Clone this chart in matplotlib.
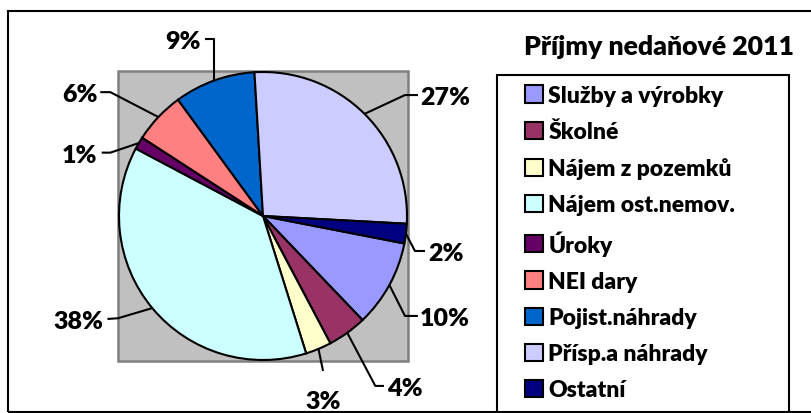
import numpy as np
import matplotlib
matplotlib.use('Agg')
import matplotlib.pyplot as plt
from matplotlib.patches import Rectangle

# data
categories = ['Služby a výrobky', 'Školné', 'Nájem z pozemků', 'Nájem ost.nemov.',
              'Úroky', 'NEI dary', 'Pojist.náhrady', 'Přísp.a náhrady', 'Ostatní']
shares = [9.8, 4.4, 2.9, 37.6, 1.4, 5.8, 9.1, 26.8, 2.2]
title = 'Příjmy nedaňové 2011'

colors = ['#9999FF', '#993366', '#FFFFCC', '#CCFFFF', '#660066',
          '#FF8080', '#0066CC', '#CCCCFF', '#000080']

# label layout in pie units: text x, text y, ha, elbow x (None = wedge x), elbow y, end x, end y
label_layout = [
    (1.09, -0.694, 'left', 0.986, -0.694, 1.076, -0.694),
    (0.86, -1.18, 'left', 0.78, -1.18, 0.84, -1.18),
    (0.42, -1.27, 'center', 0.417, -1.076, 0.417, -1.076),
    (-1.11, -0.715, 'right', -1.007, -0.71, -1.08, -0.715),
    (-1.15, 0.44, 'right', -1.06, 0.44, -1.12, 0.44),
    (-1.15, 0.86, 'right', -1.06, 0.86, -1.13, 0.86),
    (-0.43, 1.23, 'right', None, 1.23, -0.40, 1.23),
    (1.09, 0.84, 'left', 0.986, 0.84, 1.076, 0.84),
    (1.146, -0.243, 'left', 1.055, -0.243, 1.125, -0.243),
]

FONT = ['Lato', 'DejaVu Sans']
FS = 16.5
WEIGHT = 'heavy'

W, H = 811, 414
fig = plt.figure(figsize=(W / 100, H / 100), dpi=100)
ax = fig.add_axes([0, 0, 1, 1])

# pie centre at (263, 217) px, radius 144 px
cx, cy, R = 263, 217, 144

ax.add_patch(Rectangle((-1.01, -1.01), 2.02, 2.02, facecolor='#C0C0C0',
                       edgecolor='#808080', linewidth=1.8, zorder=0))

wedges, _ = ax.pie(shares, colors=colors, startangle=-11, counterclock=False,
                   radius=1, wedgeprops=dict(edgecolor='black', linewidth=1.5))

total = sum(shares)
for w, v, lay in zip(wedges, shares, label_layout):
    tx, ty, ha, ex, ey, nx, ny = lay
    mid = np.deg2rad((w.theta1 + w.theta2) / 2)
    axp, ayp = np.cos(mid), np.sin(mid)
    if ex is None:
        ex = axp
    ax.plot([axp, ex, nx], [ayp, ey, ny], color='black', lw=1.5, zorder=3,
            solid_capstyle='butt')
    ax.text(tx, ty, '%.0f%%' % (v / total * 100), ha=ha, va='center_baseline',
            family=FONT, fontsize=18, fontweight=WEIGHT, zorder=4)

ax.set_xlim(-cx / R, (W - cx) / R)
ax.set_ylim(-(H - cy) / R, cy / R)
ax.set_aspect('auto')
ax.axis('off')

# chart frame and legend box
fig.patches.append(Rectangle((8 / W, 1 / H), 1.0, (H - 13) / H, transform=fig.transFigure,
                             fill=False, edgecolor='black', linewidth=1.5))
fig.patches.append(Rectangle((497 / W, -0.05), (789 - 497) / W, (H - 76) / H + 0.05,
                             transform=fig.transFigure, fill=False,
                             edgecolor='black', linewidth=1.5))

fig.text(659 / W, 1 - 45 / H, title, ha='center', va='center_baseline',
         family=FONT, fontsize=19.2, fontweight=WEIGHT)

leg = ax.legend(wedges, categories, loc='upper left',
                bbox_to_anchor=(525 / W, 1 - 86 / H), bbox_transform=fig.transFigure,
                frameon=False, borderpad=0, borderaxespad=0,
                handlelength=0.78, handleheight=0.78, handletextpad=0.24,
                labelspacing=0.66,
                prop=dict(family=FONT, size=FS, weight=WEIGHT))

fig.savefig('out.png', dpi=100, facecolor='white')
